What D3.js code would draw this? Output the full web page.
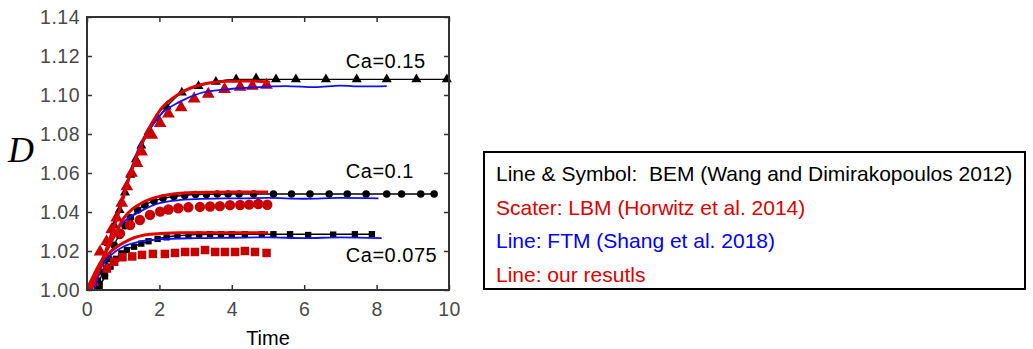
<!DOCTYPE html>
<html>
<head>
<meta charset="utf-8">
<script src="https://cdn.jsdelivr.net/npm/d3@7"></script>
<style>
  body { margin: 0; background: #fff; }
  svg { display: block; font-family: "Liberation Sans", Arial, Helvetica, sans-serif; }
  text { white-space: pre; }
</style>
</head>
<body>
<div id="chart"></div>
<script>
// axis ticks
const xTicks = [0, 2, 4, 6, 8, 10];
const yTicks = [1.00, 1.02, 1.04, 1.06, 1.08, 1.10, 1.12, 1.14];

// Ca = 0.15
const bem015Line = [[0.2,1.0],[0.35,1.009],[0.5,1.018],[0.7,1.03],[0.9,1.041],[1.05,1.05],[1.2,1.059],[1.38,1.068],[1.56,1.076],[1.8,1.084],[2.0,1.089],[2.25,1.095],[2.62,1.1013],[3.08,1.1046],[3.56,1.1068],[4.12,1.108],[5,1.108],[10,1.108]];
const bem015Pts = [[0.3,1.005],[0.45,1.015],[0.6,1.024],[0.75,1.033],[0.9,1.041],[1.05,1.05],[1.2,1.059],[1.35,1.067],[1.5,1.074],[1.7,1.081],[1.95,1.088],[2.2,1.094],[2.62,1.1013],[3.08,1.1046],[3.56,1.1068],[4.12,1.108],[4.67,1.1085],[5.22,1.108],[5.77,1.108],[6.6,1.108],[7.45,1.108],[8.28,1.108],[9.1,1.108],[9.94,1.108]];
const lbm015Pts = [[0.17,1.004],[0.36,1.0196],[0.54,1.0248],[0.68,1.031],[0.82,1.037],[0.96,1.0446],[1.1,1.053],[1.23,1.06],[1.38,1.065],[1.51,1.0709],[1.79,1.0795],[2.02,1.0855],[2.25,1.0903],[2.6,1.0935],[2.96,1.098],[3.35,1.1005],[3.8,1.1029],[4.23,1.104],[4.57,1.1046],[4.96,1.1051]];
const ftm015Line = [[0.2,1.0],[0.5,1.019],[0.9,1.042],[1.15,1.058],[1.5,1.076],[1.75,1.083],[2.02,1.0897],[2.57,1.0966],[3.12,1.1009],[3.86,1.1029],[4.5,1.1038],[5.5,1.1046],[6.3,1.104],[7.0,1.1048],[7.6,1.1044],[8.28,1.1046]];
const our015Line = [[0.12,1.0],[0.5,1.019],[0.9,1.041],[1.23,1.0615],[1.56,1.077],[2.02,1.0923],[2.57,1.1009],[3.12,1.1051],[3.86,1.107],[4.5,1.1072],[5.05,1.1066]];

// Ca = 0.1
const bem010Line = [[0.25,1.0],[0.5,1.012],[0.75,1.023],[1.0,1.032],[1.25,1.038],[1.5,1.0425],[2.0,1.0465],[2.5,1.0482],[3.0,1.049],[4.0,1.0492],[9.59,1.0492]];
const bem010Pts = [[0.3,1.002],[0.45,1.009],[0.6,1.016],[0.75,1.023],[0.9,1.028],[1.05,1.033],[1.2,1.037],[1.4,1.041],[1.6,1.0435],[1.85,1.0455],[2.1,1.047],[2.4,1.048],[2.7,1.0485],[3.0,1.049],[3.3,1.049],[3.6,1.0492],[3.9,1.0492],[4.2,1.0492],[4.6,1.0492],[5.15,1.0492],[5.65,1.0492],[6.16,1.0492],[6.69,1.0492],[7.19,1.0492],[7.71,1.0492],[8.28,1.0492],[8.69,1.0492],[9.22,1.0492],[9.59,1.0492]];
const lbm010Pts = [[0.91,1.029],[1.19,1.0333],[1.46,1.0359],[1.74,1.0385],[2.02,1.0402],[2.25,1.0413],[2.52,1.0419],[2.8,1.0424],[3.12,1.0426],[3.4,1.0428],[3.67,1.043],[3.95,1.0435],[4.23,1.0436],[4.48,1.0438],[4.73,1.0441],[4.98,1.0437]];
const ftm010Line = [[0.1,1.0],[0.4,1.015],[0.7,1.027],[1.0,1.0345],[1.5,1.0405],[2.0,1.0445],[2.5,1.046],[3.0,1.0466],[4.0,1.047],[5.0,1.0472],[6.0,1.0468],[7.0,1.0472],[8.05,1.047]];
const our010Line = [[0.05,1.0],[0.3,1.01],[0.5,1.0185],[0.75,1.0275],[1.0,1.0365],[1.25,1.0415],[1.5,1.0445],[2.0,1.048],[2.5,1.0495],[3.0,1.05],[4.0,1.0503],[5.0,1.0503]];

// Ca = 0.075
const bem075Line = [[0.3,1.0],[0.5,1.007],[0.75,1.015],[1.0,1.0195],[1.5,1.0238],[2.0,1.0265],[2.5,1.0278],[3.0,1.0284],[4.0,1.0286],[7.87,1.0286]];
const bem075Pts = [[0.35,1.002],[0.5,1.007],[0.65,1.012],[0.8,1.016],[0.95,1.0188],[1.1,1.0205],[1.3,1.0222],[1.5,1.0238],[1.7,1.025],[1.95,1.0262],[2.2,1.027],[2.5,1.0278],[2.8,1.0282],[3.1,1.0284],[3.4,1.0286],[3.7,1.0286],[4.0,1.0286],[4.36,1.0286],[4.83,1.0286],[5.15,1.0286],[5.61,1.0286],[6.11,1.0282],[6.8,1.0284],[7.4,1.0286],[7.87,1.0286]];
const lbm075Pts = [[0.55,1.011],[0.75,1.0145],[0.98,1.0168],[1.25,1.0172],[1.52,1.018],[1.82,1.0185],[2.15,1.0185],[2.43,1.019],[2.71,1.0195],[2.98,1.0195],[3.26,1.0205],[3.54,1.0195],[3.81,1.0195],[4.09,1.0195],[4.36,1.02],[4.64,1.0195],[4.96,1.019]];
const ftm075Line = [[0.1,1.0],[0.4,1.012],[0.7,1.0185],[1.0,1.0222],[1.5,1.025],[2.0,1.026],[3.0,1.0266],[4.0,1.0268],[5.0,1.027],[6.0,1.0266],[7.0,1.027],[8.14,1.0266]];
const our075Line = [[0.0,1.0],[0.36,1.0137],[0.77,1.0214],[1.19,1.026],[1.74,1.0286],[2.57,1.0294],[3.5,1.0294],[5.0,1.0294]];

const caLabels = [
  { text: "Ca=0.15", t: 7.15, d: 1.1136 },
  { text: "Ca=0.1", t: 7.15, d: 1.0572 },
  { text: "Ca=0.075", t: 7.15, d: 1.0146 }
];

const legendLines = [
  { text: "Line & Symbol:  BEM (Wang and Dimirakopoulos 2012)", color: "#000" },
  { text: "Scater: LBM (Horwitz et al. 2014)", color: "#e00000" },
  { text: "Line: FTM (Shang et al. 2018)", color: "#0000ff" },
  { text: "Line: our resutls", color: "#e00000" }
];

const W = 1033, H = 349;
const plot = { left: 87, right: 449, top: 17, bottom: 290 };

const svg = d3.select("#chart").append("svg")
  .attr("width", W)
  .attr("height", H);

const x = d3.scaleLinear().domain([0, 10]).range([plot.left, plot.right]);
const y = d3.scaleLinear().domain([1.0, 1.14]).range([plot.bottom, plot.top]);

const line = d3.line()
  .x(d => x(d[0]))
  .y(d => y(d[1]))
  .curve(d3.curveMonotoneX);

const plotArea = svg.append("g");

// BEM: black line + symbols
function drawBem(lineData, pts, shape, size) {
  plotArea.append("path")
    .datum(lineData)
    .attr("fill", "none")
    .attr("stroke", "#000")
    .attr("stroke-width", 1.4)
    .attr("d", line);
  plotArea.append("g").selectAll("path")
    .data(pts)
    .join("path")
    .attr("transform", d => `translate(${x(d[0])},${y(d[1])})`)
    .attr("d", d3.symbol().type(shape).size(size))
    .attr("fill", "#000");
}

function drawLbm(pts, shape, size) {
  plotArea.append("g").selectAll("path")
    .data(pts)
    .join("path")
    .attr("transform", d => `translate(${x(d[0])},${y(d[1])})`)
    .attr("d", d3.symbol().type(shape).size(size))
    .attr("fill", "#c80000");
}

function drawLine(data, color, width) {
  plotArea.append("path")
    .datum(data)
    .attr("fill", "none")
    .attr("stroke", color)
    .attr("stroke-width", width)
    .attr("stroke-linejoin", "round")
    .attr("d", line);
}

drawBem(bem075Line, bem075Pts, d3.symbolSquare, 40);
drawBem(bem010Line, bem010Pts, d3.symbolCircle, 44);
drawBem(bem015Line, bem015Pts, d3.symbolTriangle, 44);

drawLbm(lbm075Pts, d3.symbolSquare, 72);
drawLbm(lbm010Pts, d3.symbolCircle, 85);
drawLbm(lbm015Pts, d3.symbolTriangle, 70);

drawLine(ftm075Line, "#1010ff", 1.8);
drawLine(ftm010Line, "#1010ff", 1.8);
drawLine(ftm015Line, "#1010ff", 1.8);

drawLine(our075Line, "#e00000", 3);
drawLine(our010Line, "#e00000", 3);
drawLine(our015Line, "#e00000", 3);

// axes, ticks pointing inwards on all four sides
const axisColor = "#333";
const labelColor = "#4a4a4a";

const xAxis = svg.append("g")
  .attr("transform", `translate(0,${plot.bottom})`)
  .call(d3.axisBottom(x).tickValues(xTicks).tickSize(-5).tickPadding(12).tickFormat(d3.format("d")));
const xTop = svg.append("g")
  .attr("transform", `translate(0,${plot.top})`)
  .call(d3.axisTop(x).tickValues(xTicks).tickSize(-5).tickFormat(""));
const yAxis = svg.append("g")
  .attr("transform", `translate(${plot.left},0)`)
  .call(d3.axisLeft(y).tickValues(yTicks).tickSize(-5).tickPadding(7).tickFormat(d3.format(".2f")));
const yRight = svg.append("g")
  .attr("transform", `translate(${plot.right},0)`)
  .call(d3.axisRight(y).tickValues(yTicks).tickSize(-5).tickFormat(""));

[xAxis, xTop, yAxis, yRight].forEach(g => {
  g.select(".domain").remove();
  g.selectAll(".tick line").attr("stroke", axisColor).attr("stroke-width", 1.5);
  g.selectAll(".tick text")
    .attr("fill", labelColor)
    .style("font-size", "19.5px")
    .style("letter-spacing", "0.5px")
    .style("font-family", "'Liberation Sans', Arial, sans-serif");
});

svg.append("rect")
  .attr("x", plot.left)
  .attr("y", plot.top)
  .attr("width", plot.right - plot.left)
  .attr("height", plot.bottom - plot.top)
  .attr("fill", "none")
  .attr("stroke", axisColor)
  .attr("stroke-width", 2);

// axis titles
svg.append("text")
  .attr("x", x(5))
  .attr("y", 345)
  .attr("text-anchor", "middle")
  .style("font-size", "20px")
  .attr("fill", "#000")
  .text("Time");

svg.append("text")
  .attr("x", 8)
  .attr("y", 162)
  .style("font-family", "'Liberation Serif', serif")
  .style("font-style", "italic")
  .style("font-size", "36px")
  .attr("fill", "#000")
  .text("D");

// Ca annotations
svg.append("g").selectAll("text")
  .data(caLabels)
  .join("text")
  .attr("x", d => x(d.t))
  .attr("y", d => y(d.d))
  .style("font-size", "20px")
  .style("letter-spacing", "0.5px")
  .attr("fill", "#000")
  .text(d => d.text);

// legend box
const legend = svg.append("g").attr("transform", "translate(484,152)");
legend.append("rect")
  .attr("width", 541)
  .attr("height", 137)
  .attr("fill", "#fff")
  .attr("stroke", "#000")
  .attr("stroke-width", 2);
legend.selectAll("text")
  .data(legendLines)
  .join("text")
  .attr("x", 12)
  .attr("y", (d, i) => 29 + i * 33.5)
  .style("font-size", "21px")
  .attr("fill", d => d.color)
  .text(d => d.text);
</script>
</body>
</html>
